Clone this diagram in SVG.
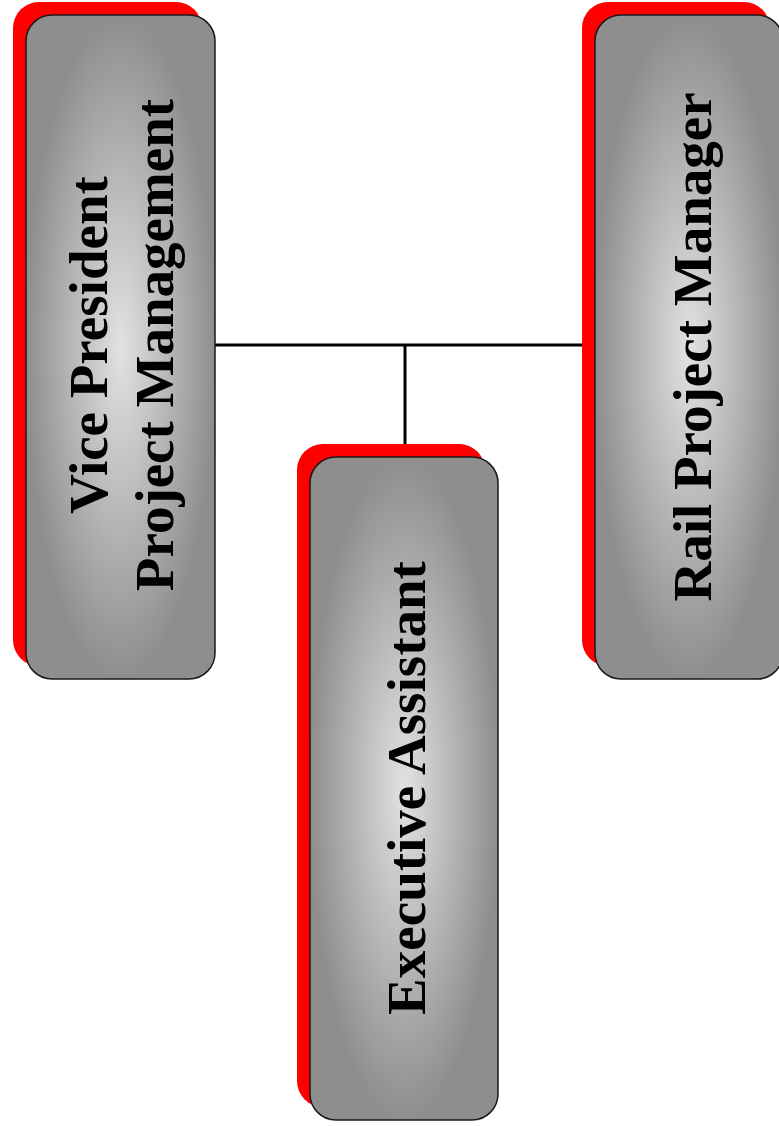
<svg xmlns="http://www.w3.org/2000/svg" width="779" height="1126" viewBox="0 0 779 1126">
<style>
.shadow{fill:#ff0000;stroke:none}
.box{fill:url(#g);stroke:#1a1a1a;stroke-width:1.5}
.lbl{font-family:"Liberation Serif","Times New Roman",serif;font-weight:bold;font-size:55px;fill:#000;text-anchor:middle}
.conn{stroke:#000;stroke-width:3;fill:none}
</style>
<defs>
<radialGradient id="g" cx="0.5" cy="0.5" r="0.5" gradientUnits="objectBoundingBox">
<stop offset="0" stop-color="#e2e2e2"/>
<stop offset="0.55" stop-color="#b4b4b4"/>
<stop offset="1" stop-color="#8e8e8e"/>
</radialGradient>
</defs>
<rect width="779" height="1126" fill="#ffffff"/>
<g id="connectors">
<line class="conn" x1="215" y1="345" x2="583" y2="345"/>
<line class="conn" x1="405" y1="345" x2="405" y2="444"/>
</g>
<g id="node-vp">
<rect class="shadow" x="13" y="2" width="189" height="664" rx="26" ry="26"/>
<rect class="box" x="26" y="15" width="189" height="664" rx="26" ry="26"/>
<text class="lbl" transform="translate(107,345) rotate(-90)">Vice President</text>
<text class="lbl" transform="translate(173,345) rotate(-90)">Project Management</text>
</g>
<g id="node-ea">
<rect class="shadow" x="297" y="444" width="188" height="663" rx="26" ry="26"/>
<rect class="box" x="310" y="457" width="188" height="663" rx="26" ry="26"/>
<text class="lbl" transform="translate(425,788) rotate(-90)">Executive Assistant</text>
</g>
<g id="node-rpm">
<rect class="shadow" x="582" y="2" width="188" height="664" rx="26" ry="26"/>
<rect class="box" x="595" y="15" width="188" height="664" rx="26" ry="26"/>
<text class="lbl" transform="translate(711,347) rotate(-90)">Rail Project Manager</text>
</g>
</svg>
